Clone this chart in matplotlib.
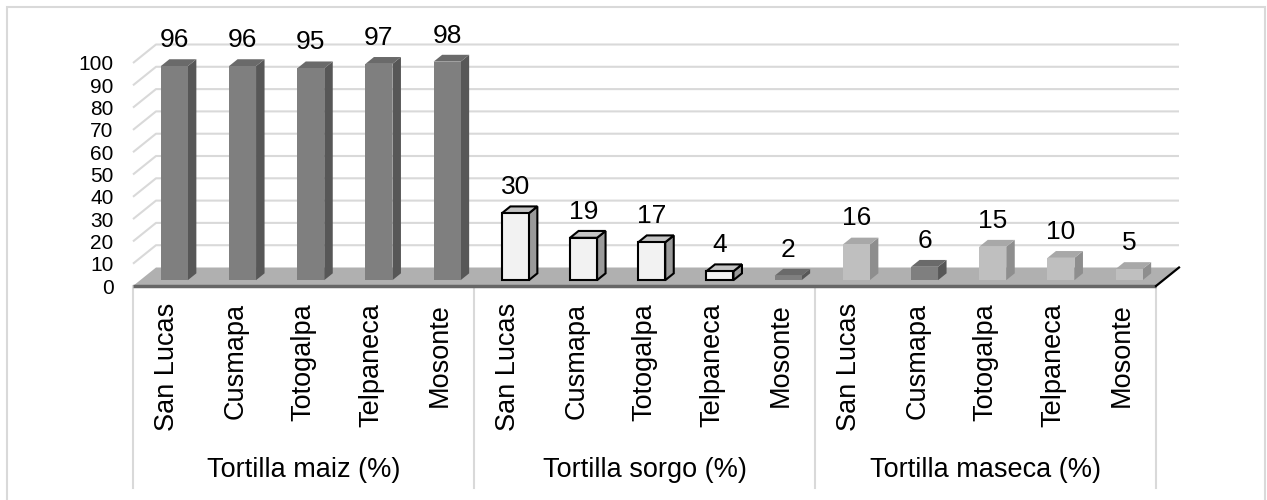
import matplotlib
matplotlib.use("Agg")
import matplotlib.pyplot as plt
from matplotlib.patches import Polygon, Rectangle

plt.rcParams['font.family'] = ['Liberation Sans', 'DejaVu Sans']

# ---- data ----
groups = ["Tortilla maiz (%)", "Tortilla sorgo (%)", "Tortilla maseca (%)"]
places = ["San Lucas", "Cusmapa", "Totogalpa", "Telpaneca", "Mosonte"]
maiz = [96, 96, 95, 97, 98]
sorgo = [30, 19, 17, 4, 2]
maseca = [16, 6, 15, 10, 5]
yticks = list(range(0, 101, 10))

# ---- styles (front, side, top, edge) ----
DARK = ("#7f7f7f", "#575757", "#6a6a6a", None)
WHITE = ("#f2f2f2", "#9a9a9a", "#c4c4c4", "#000000")
LIGHT = ("#bfbfbf", "#8e8e8e", "#a8a8a8", None)
styles = [DARK] * 5 + [WHITE, WHITE, WHITE, WHITE, DARK] + [LIGHT, DARK, LIGHT, LIGHT, LIGHT]

values = maiz + sorgo + maseca
n = len(values)

W, H = 1267, 500
fig = plt.figure(figsize=(W / 100, H / 100), dpi=100)

# figure border
fig.patches.append(Rectangle((7 / W, -0.05), (1265 - 7) / W, 1.05 - 7 / H,
                             transform=fig.transFigure, fill=False,
                             edgecolor="#d9d9d9", linewidth=1.5))

px_cat = 68.2
px_val = 2.23
left_px, floor_px, top_px = 133, 286, 63
ax = fig.add_axes([left_px / W, (H - floor_px) / H, (px_cat * n) / W, (floor_px - top_px) / H])
ax.set_xlim(-0.5, n - 0.5)
ax.set_ylim(0, 100)
for s in ax.spines.values():
    s.set_visible(False)
ax.set_xticks([])
ax.set_yticks(yticks)
ax.set_yticklabels([str(t) for t in yticks], fontsize=15)
ax.tick_params(axis='y', length=0, pad=14)
ax.patch.set_alpha(0)

# depth offsets in data units
DX = 23 / px_cat
DY = 18.5 / px_val

# gridlines: left wall + back wall
for v in yticks[1:]:
    ax.plot([-0.5, -0.5 + DX, n - 0.5 + DX], [v, v + DY, v + DY],
            color="#d9d9d9", lw=1.5, clip_on=False, zorder=1, solid_capstyle='butt')

# floor
floor = Polygon([(-0.5, 0), (n - 0.5, 0), (n - 0.5 + DX, DY), (-0.5 + DX, DY)],
                closed=True, facecolor="#b0b0b0", edgecolor="none", zorder=2, clip_on=False)
ax.add_patch(floor)
ax.plot([-0.5, n - 0.5], [0, 0], color="#666666", lw=2.5, zorder=3, clip_on=False,
        solid_capstyle='butt')
ax.plot([n - 0.5, n - 0.5 + DX], [0, DY], color="#000000", lw=1.6, zorder=3, clip_on=False)

# bars
bw = 27 / px_cat
f0, fd = 0.315, 0.37
for i, v in enumerate(values):
    front, side, top, edge = styles[i]
    x0 = i - bw / 2 + f0 * DX
    y0 = f0 * DY
    ddx, ddy = fd * DX, fd * DY
    ec = edge if edge else "none"
    lw = 1.5 if edge else 0
    side_poly = Polygon([(x0 + bw, y0), (x0 + bw + ddx, y0 + ddy),
                         (x0 + bw + ddx, y0 + v + ddy), (x0 + bw, y0 + v)],
                        closed=True, facecolor=side, edgecolor=ec, lw=lw, zorder=5, clip_on=False)
    top_poly = Polygon([(x0, y0 + v), (x0 + bw, y0 + v), (x0 + bw + ddx, y0 + v + ddy),
                        (x0 + ddx, y0 + v + ddy)],
                       closed=True, facecolor=top, edgecolor=ec, lw=lw, zorder=5, clip_on=False)
    front_rect = Rectangle((x0, y0), bw, v, facecolor=front, edgecolor=ec, lw=lw,
                           zorder=6, clip_on=False)
    ax.add_patch(side_poly)
    ax.add_patch(top_poly)
    ax.add_patch(front_rect)
    ax.text(x0 + bw / 2, y0 + v + 26 / px_val, str(v), ha='center', va='center',
            fontsize=19, zorder=7, clip_on=False)

# category labels
for i in range(n):
    ax.text(i, -17 / px_val, places[i % 5], rotation=90, ha='center', va='top',
            fontsize=19.5, clip_on=False)

# group labels and separators
for g, name in enumerate(groups):
    ax.text(g * 5 + 2, -184 / px_val, name, ha='center', va='center', fontsize=19.5,
            clip_on=False)
for b in range(len(groups) + 1):
    ax.plot([b * 5 - 0.5, b * 5 - 0.5], [0, -202 / px_val], color="#d9d9d9", lw=1.5,
            clip_on=False, zorder=1)

fig.savefig("out.png", dpi=100)
